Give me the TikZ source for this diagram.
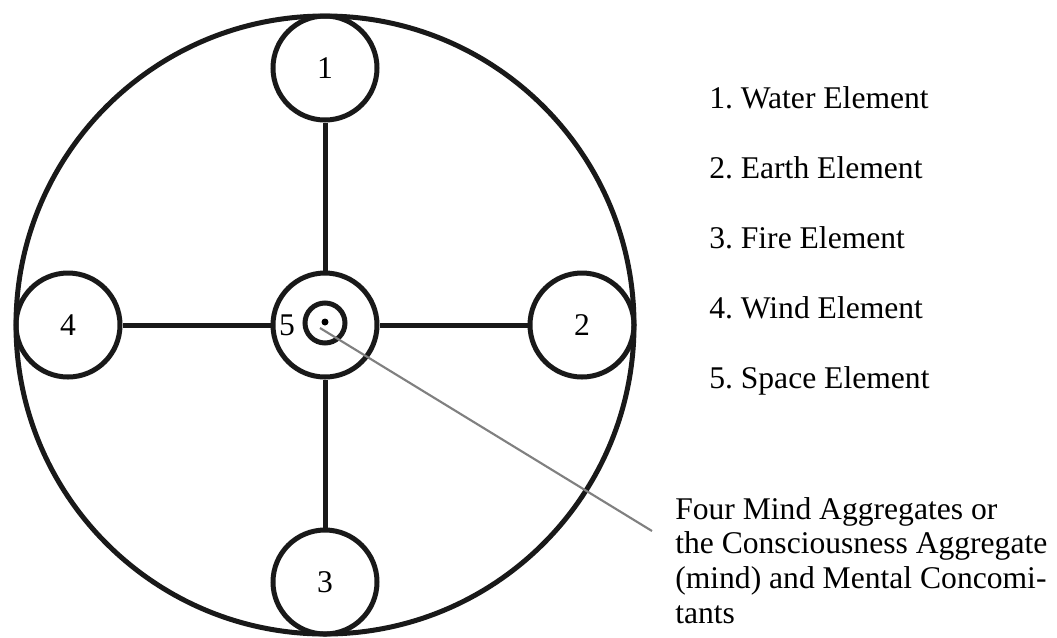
\documentclass[tikz,border=0pt]{standalone}
\usepackage{fontspec}
\setmainfont{Liberation Serif}
\frenchspacing
\begin{document}
\begin{tikzpicture}[x=0.75pt,y=-0.75pt,
  ring/.style={circle,draw=black!90,line width=3.75pt,minimum size=104*0.75pt,inner sep=0pt,font=\fontsize{23.7}{26}\selectfont},
  spoke/.style={draw=black!90,line width=3.75pt},
  lbl/.style={anchor=base west,font=\fontsize{23.7}{26}\selectfont,inner sep=0pt},
  pointer/.style={draw=black!50,line width=1.6pt}]
\useasboundingbox (0,0) rectangle (1057,637);
\node[circle,draw=black!90,line width=3.75pt,minimum size=618*0.75pt,inner sep=0pt] (big) at (325,325) {};
\node[ring] (c5) at (325,325) {};
\node[ring] (c1) at (325,68) {1};
\node[ring] (c2) at (582,325) {2};
\node[ring] (c3) at (325,582) {3};
\node[ring] (c4) at (68,325) {4};
\node[circle,draw=black!90,line width=3.75pt,minimum size=40*0.75pt,inner sep=0pt] (inner) at (325,323) {};
\node[circle,fill=black,minimum size=7*0.75pt,inner sep=0pt] (dot) at (325,322) {};
\node[font=\fontsize{23.7}{26}\selectfont,inner sep=0pt] (n5) at (287,325) {5};
\draw[spoke] (c1) -- (c5);
\draw[spoke] (c3) -- (c5);
\draw[spoke] (c4) -- (c5);
\draw[spoke] (c2) -- (c5);
\coordinate (pstart) at (320,328);
\coordinate (pend) at (652,531);
\draw[pointer] (pstart) -- (pend);
\node[lbl] (t1) at (709,108) {1. Water Element};
\node[lbl] (t2) at (709,178) {2. Earth Element};
\node[lbl] (t3) at (709,248) {3. Fire Element};
\node[lbl] (t4) at (709,318) {4. Wind Element};
\node[lbl] (t5) at (709,388) {5. Space Element};
\node[anchor=base west,inner sep=0pt,align=left,font=\fontsize{23.7}{25.9}\selectfont] (note) at (675,623) {Four Mind Aggregates or\\the Consciousness Aggregate\\(mind) and Mental Concomi-\\tants};
\end{tikzpicture}
\end{document}
